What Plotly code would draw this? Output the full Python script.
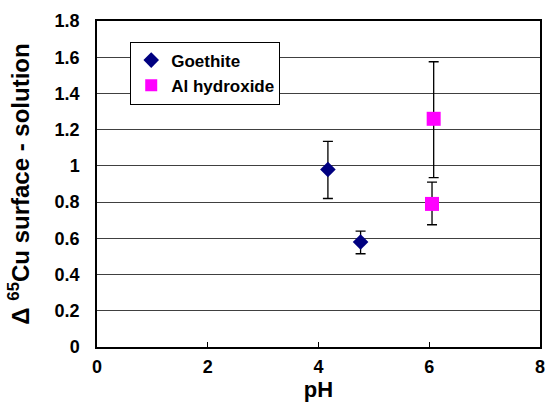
import plotly.graph_objects as go

# Goethite sorption data
goethite_ph = [4.17, 4.76]
goethite_delta = [0.98, 0.58]
goethite_err_plus = [0.155, 0.06]
goethite_err_minus = [0.16, 0.065]

# Al hydroxide sorption data
alhyd_ph = [6.08, 6.05]
alhyd_delta = [1.26, 0.79]
alhyd_err_plus = [0.315, 0.12]
alhyd_err_minus = [0.325, 0.115]

x_ticks = [0, 2, 4, 6, 8]
y_ticks = [0, 0.2, 0.4, 0.6, 0.8, 1, 1.2, 1.4, 1.6, 1.8]

font_family = "Liberation Sans, Arial, sans-serif"

fig = go.Figure()
fig.add_trace(go.Scatter(
    x=goethite_ph, y=goethite_delta, mode="markers", name="<b>Goethite</b>",
    marker=dict(symbol="diamond", size=12, color="#000080"),
    error_y=dict(type="data", symmetric=False, array=goethite_err_plus,
                 arrayminus=goethite_err_minus, color="black", thickness=1.3, width=5),
))
fig.add_trace(go.Scatter(
    x=alhyd_ph, y=alhyd_delta, mode="markers", name="<b>Al hydroxide</b>",
    marker=dict(symbol="square", size=14, color="#FF00FF"),
    error_y=dict(type="data", symmetric=False, array=alhyd_err_plus,
                 arrayminus=alhyd_err_minus, color="black", thickness=1.3, width=5),
))

fig.update_layout(
    width=552, height=403,
    margin=dict(l=97, r=7, t=21, b=56),
    paper_bgcolor="white", plot_bgcolor="white",
    font=dict(family=font_family, size=18, color="black"),
    legend=dict(
        x=0.075, y=0.937, xanchor="left", yanchor="top",
        bgcolor="white", bordercolor="black", borderwidth=1,
        font=dict(size=17, family=font_family),
        tracegroupgap=4, itemsizing="constant", itemwidth=30,
    ),
    xaxis=dict(
        range=[0, 8], tickvals=x_ticks, ticktext=[f"<b>{v}</b>" for v in x_ticks],
        showgrid=False, zeroline=False,
        showline=True, linecolor="black", linewidth=1.5, mirror=True,
        ticks="inside", ticklen=5, tickcolor="black",
        ticklabelstandoff=3,
        title=dict(text="<b>pH</b>", font=dict(size=22), standoff=0),
    ),
    yaxis=dict(
        range=[0, 1.8], tickvals=y_ticks,
        ticktext=[f"<b>{v:g}</b>" for v in y_ticks],
        showgrid=True, gridcolor="#404040", gridwidth=1, zeroline=False,
        showline=True, linecolor="black", linewidth=1.5, mirror=True,
        ticks="", ticklen=0, ticklabelstandoff=12,
        title=dict(text="<b>Δ <sup>65</sup>Cu surface - solution</b>",
                   font=dict(size=24), standoff=18),
    ),
)

fig.write_html("out.html")
